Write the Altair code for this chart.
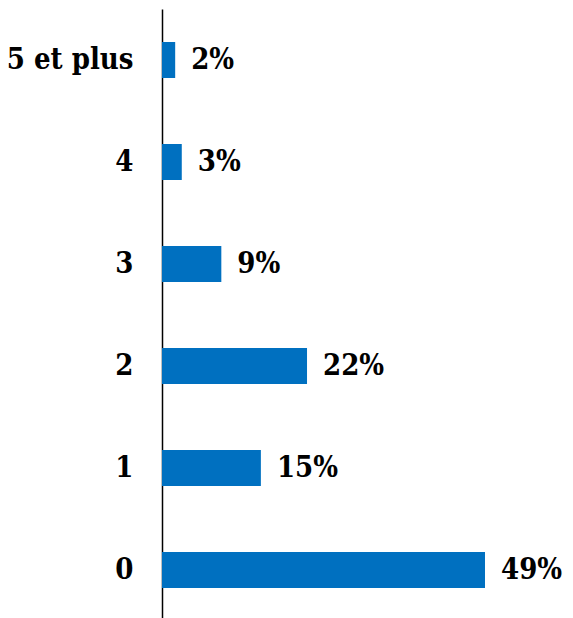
import altair as alt
import pandas as pd

categories = ["5 et plus", "4", "3", "2", "1", "0"]
values = [2, 3, 9, 22, 15, 49]
labels = ["2%", "3%", "9%", "22%", "15%", "49%"]

df = pd.DataFrame({"cat": categories, "val": values, "lab": labels})

FONT = "DejaVu Serif Condensed, DejaVu Serif, serif"
pi = 0.647
po = 0.3088

y = alt.Y(
    "cat:N",
    sort=categories,
    scale=alt.Scale(paddingInner=pi, paddingOuter=po, align=0.524),
    axis=alt.Axis(
        title=None,
        ticks=False,
        grid=False,
        domain=True,
        domainColor="#000000",
        domainWidth=1.5,
        labelFont=FONT,
        labelFontSize=29,
        labelFontWeight="bold",
        labelColor="#000000",
        labelPadding=29,
    ),
)
x = alt.X("val:Q", scale=alt.Scale(domain=[0, 62.35], nice=False, zero=True), axis=None)

bars = alt.Chart(df).mark_bar(color="#0070C0").encode(x=x, y=y)
text = alt.Chart(df).mark_text(
    align="left", baseline="middle", dx=16, font=FONT, fontSize=29, fontWeight="bold", color="#000000"
).encode(x=x, y=y, text="lab:N")

chart = (
    alt.layer(bars, text)
    .properties(
        width=411,
        height=609,
        autosize=alt.AutoSizeParams(type="none"),
        padding={"left": 162, "top": 9, "right": 0, "bottom": 0},
        view=alt.ViewBackground(stroke="transparent", strokeWidth=0),
    )
    .configure_view(stroke=None, strokeWidth=0)
    .configure_axisX(domain=False, grid=False, ticks=False, labels=False)
    .configure(background="#ffffff")
)

chart.save("out.html", embed_options={"renderer": "svg", "actions": False})
